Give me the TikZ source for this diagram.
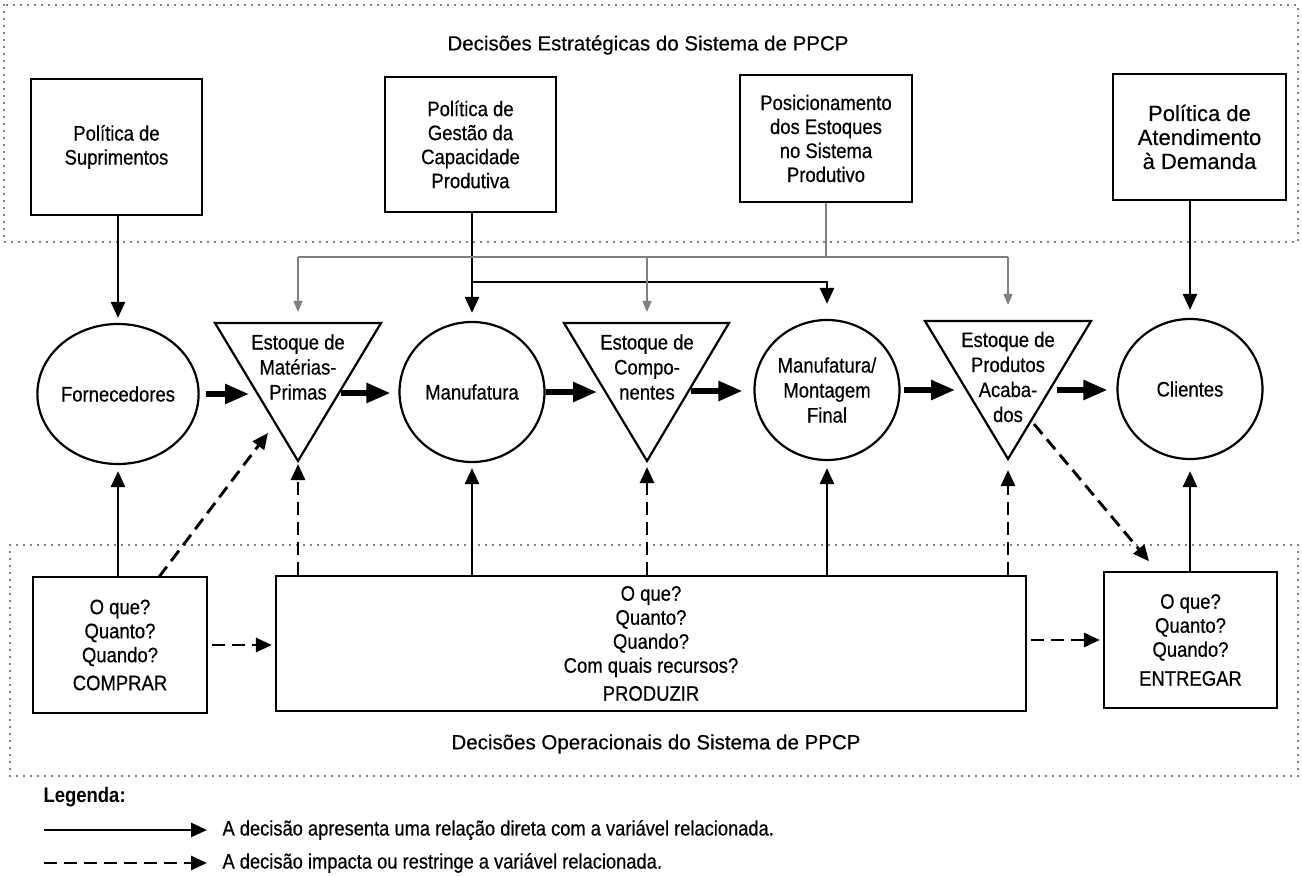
\documentclass[tikz,border=0pt]{standalone}
\usepackage{fontspec}
\setmainfont[FakeBold=0.4]{Liberation Sans}
\newfontfamily\nfont[FakeStretch=0.88,FakeBold=0.5]{Liberation Sans}
\newfontfamily\nbfont[FakeStretch=0.88]{Liberation Sans Bold}
\usetikzlibrary{arrows.meta,shapes.geometric,calc}
\begin{document}
\begin{tikzpicture}[x=1pt,y=-1pt,
  box/.style={draw,line width=2.2pt,align=center,inner sep=0pt,font=\nfont\fontsize{21}{24}\selectfont},
  circ/.style={draw,ellipse,line width=2.2pt,minimum width=145pt,minimum height=140pt,inner sep=0pt,align=center,font=\nfont\fontsize{21}{25}\selectfont},
  tri/.style={draw,line width=2.2pt,line join=miter},
  tritext/.style={align=center,inner sep=0pt,font=\nfont\fontsize{21}{25}\selectfont},
  dir/.style={line width=2.7pt,-{Triangle[length=16pt,width=14pt]}},
  imp/.style={line width=2.9pt,dash pattern=on 13pt off 7pt,-{Triangle[length=16pt,width=14pt]}},
  flow/.style={line width=5.5pt,-{Triangle[length=24pt,width=19pt]}},
  gline/.style={line width=1.2pt,draw=black!50},
  posarrow/.style={gline,-{Triangle[length=11pt,width=9pt]}},
  frame/.style={line width=1.7pt,dash pattern=on 0pt off 7pt,line cap=round},
  ttl/.style={font=\fontsize{20.5}{24}\selectfont}
]
\useasboundingbox (0,0) rectangle (1302,877);
% frames
\draw[frame] (4,5) rectangle (1298,242);
\draw[frame] (10,545) rectangle (1298,776);
\node[ttl] (tS) at (648,45) {Decisões Estratégicas do Sistema de PPCP};
\node[ttl] (tO) at (656,744) {Decisões Operacionais do Sistema de PPCP};
% policy boxes
\node[box,minimum width=171pt,minimum height=136pt] (p1) at (116.5,147) {Política de\\Suprimentos};
\node[box,minimum width=171pt,minimum height=135pt] (p2) at (470.5,144.5) {Política de\\Gestão da\\Capacidade\\Produtiva};
\node[box,minimum width=172pt,minimum height=127pt] (p3) at (826,138.5) {Posicionamento\\dos Estoques\\no Sistema\\Produtivo};
\node[box,minimum width=173pt,minimum height=126pt,font=\fontsize{22}{24}\selectfont] (p4) at (1199.5,137) {Política de\\Atendimento\\à Demanda};
% circles
\node[circ] (forn) at (118,394) {Fornecedores};
\node[circ] (manuf) at (472,392) {Manufatura};
\node[circ] (mont) at (827,390) {Manufatura/\\Montagem\\Final};
\node[circ] (cli) at (1190,389) {Clientes};
% triangles
\coordinate (mpA) at (215,323); \coordinate (mpB) at (381,323); \coordinate (mpC) at (298,461);
\draw[tri] (mpA) -- (mpB) -- (mpC) -- cycle;
\node[tritext] (mp) at (298,367) {Estoque de\\Matérias-\\Primas};
\coordinate (cpA) at (564,323); \coordinate (cpB) at (729,323); \coordinate (cpC) at (647,461);
\draw[tri] (cpA) -- (cpB) -- (cpC) -- cycle;
\node[tritext] (cp) at (647,367) {Estoque de\\Compo-\\nentes};
\coordinate (pdA) at (925,321); \coordinate (pdB) at (1091,321); \coordinate (pdC) at (1008,459);
\draw[tri] (pdA) -- (pdB) -- (pdC) -- cycle;
\node[tritext] (pd) at (1008,377) {Estoque de\\Produtos\\Acaba-\\dos};
% bottom boxes
\node[box,minimum width=174pt,minimum height=136pt] (comp) at (120,645) {O que?\\Quanto?\\Quando?\\[4pt]COMPRAR};
\node[box,minimum width=750pt,minimum height=135pt] (prod) at (651,643.5) {O que?\\Quanto?\\Quando?\\Com quais recursos?\\[4pt]PRODUZIR};
\node[box,minimum width=173pt,minimum height=136pt] (entr) at (1190.5,640) {O que?\\Quanto?\\Quando?\\[5pt]ENTREGAR};
% top connectors
\draw[dir,shorten >=5pt] (forn.north |- p1.south) -- (forn.north);
\draw[dir,shorten >=8pt] (manuf.north |- p2.south) -- (manuf.north);
\coordinate (br) at (472,282); \coordinate (brR) at (827,282);
\draw[dir,shorten >=15pt,line join=miter] (br) -- (brR) -- (mont.north);
\coordinate (g0) at (826,257); \coordinate (gL) at (298,257); \coordinate (gM) at (647,257); \coordinate (gR) at (1008,257);
\draw[gline] (p3.south) -- (g0);
\draw[gline] (gL) -- (gR);
\draw[posarrow,shorten >=11pt] (gL) -- (gL |- mpA);
\draw[posarrow,shorten >=11pt] (gM) -- (gM |- cpA);
\draw[posarrow,shorten >=16pt] (gR) -- (gR |- pdA);
\draw[dir,shorten >=8pt] (cli.north |- p4.south) -- (cli.north);
% flow arrows
\coordinate (mpL) at (258,394); \coordinate (mpR) at (338,393);
\coordinate (cpL) at (607,392); \coordinate (cpR) at (686,391);
\coordinate (pdL) at (968,390); \coordinate (pdR) at (1048,390);
\draw[flow,shorten <=6pt,shorten >=9pt] (forn.east) -- (forn.east -| mpL);
\draw[flow,shorten <=3pt,shorten >=8pt] (mpR) -- (mpR -| manuf.west);
\draw[flow,shorten >=10pt] (manuf.east) -- (manuf.east -| cpL);
\draw[flow,shorten <=5pt,shorten >=11pt] (cpR) -- (cpR -| mont.west);
\draw[flow,shorten <=3pt,shorten >=13pt] (mont.east) -- (mont.east -| pdL);
\draw[flow,shorten <=9pt,shorten >=9pt] (pdR) -- (pdR -| cli.west);
% bottom connectors
\draw[dir,shorten >=6pt] (forn.south |- comp.north) -- (forn.south);
\coordinate (cd0) at (159,577); \coordinate (cd1) at (268,433);
\draw[imp] (cd0) -- (cd1);
\draw[imp,shorten >=3pt] (mpC |- prod.north) -- (mpC);
\draw[dir,shorten >=5pt] (manuf.south |- prod.north) -- (manuf.south);
\draw[imp,shorten >=6pt] (cpC |- prod.north) -- (cpC);
\draw[dir,shorten >=7pt] (mont.south |- prod.north) -- (mont.south);
\draw[imp,shorten >=11pt] (pdC |- prod.north) -- (pdC);
\draw[dir,shorten >=11pt] (cli.south |- entr.north) -- (cli.south);
\coordinate (pd0) at (1034,424); \coordinate (pd1) at (1158,572);
\draw[imp,shorten >=14pt] (pd0) -- (pd1);
\draw[imp,shorten <=4pt,shorten >=3pt] (comp.east) -- (comp.east -| prod.west);
\draw[imp,shorten <=4pt,shorten >=3pt] (prod.east |- entr.west) -- (entr.west);
% legend
\node[anchor=west,font=\nbfont\fontsize{21}{24}\selectfont] (leg) at (40,797) {Legenda:};
\coordinate (l1a) at (44,830); \coordinate (l1b) at (207,830);
\coordinate (l2a) at (44,863); \coordinate (l2b) at (207,863);
\draw[dir] (l1a) -- (l1b);
\draw[imp] (l2a) -- (l2b);
\node[anchor=west,font=\nfont\fontsize{20.8}{24}\selectfont] (lt1) at (219,830) {A decisão apresenta uma relação direta com a variável relacionada.};
\node[anchor=west,font=\nfont\fontsize{20.8}{24}\selectfont] (lt2) at (219,863) {A decisão impacta ou restringe a variável relacionada.};
\end{tikzpicture}
\end{document}
